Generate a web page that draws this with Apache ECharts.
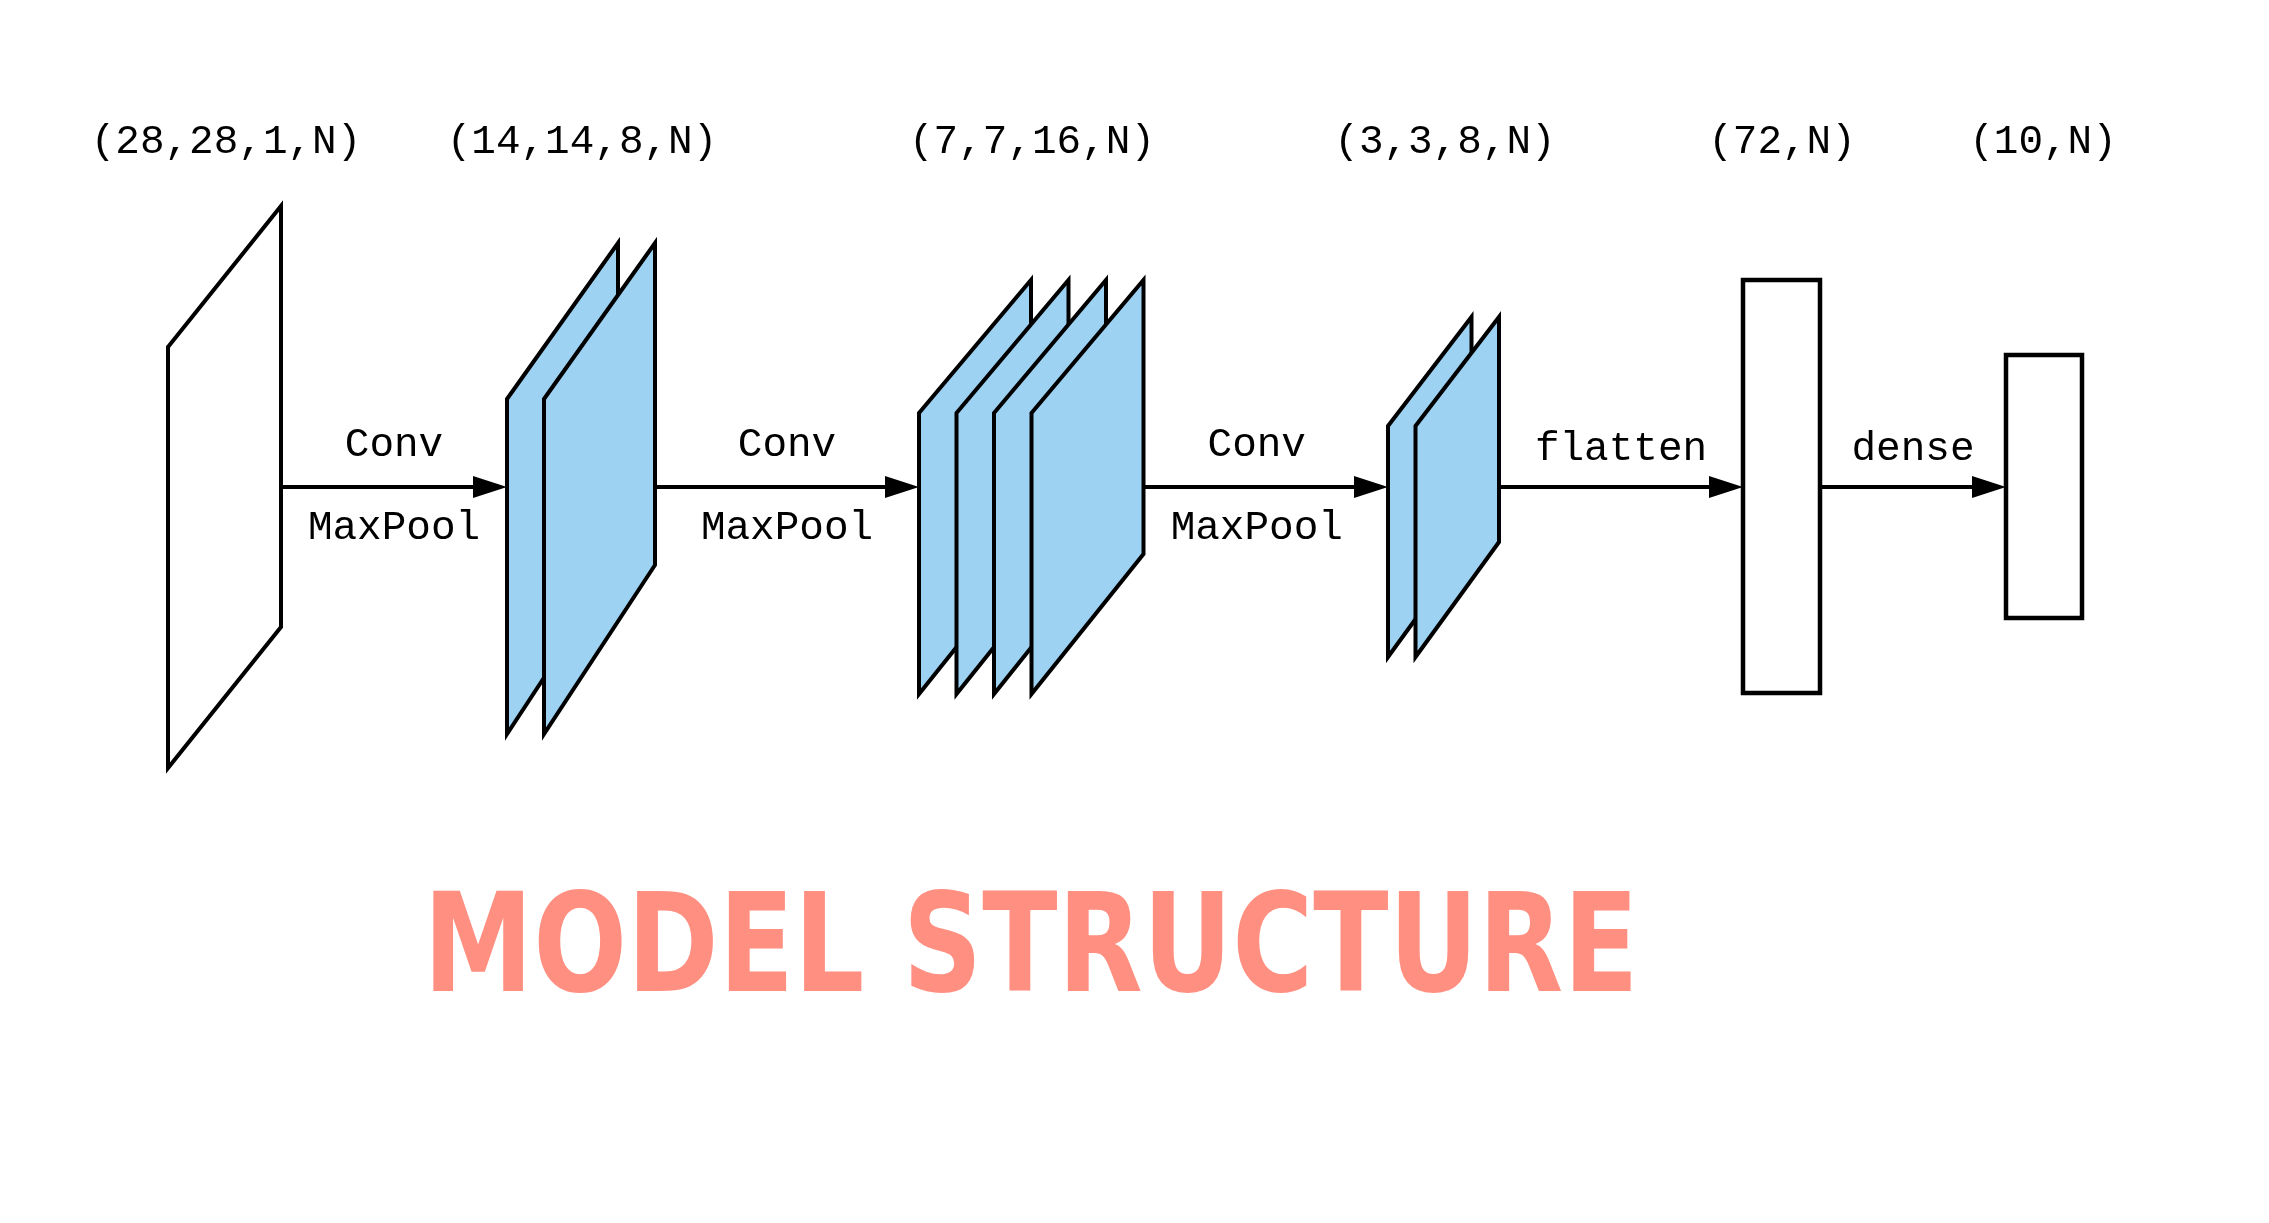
<!DOCTYPE html>
<html>
<head>
<meta charset="utf-8">
<script src="https://cdn.jsdelivr.net/npm/echarts@6/dist/echarts.min.js"></script>
<style>
  html, body { margin: 0; padding: 0; background: #fff; }
  #main { width: 2269px; height: 1223px; }
</style>
</head>
<body>
<div id="main"></div>
<script>
// 各层输出形状
const stageShapes = ['(28,28,1,N)', '(14,14,8,N)', '(7,7,16,N)', '(3,3,8,N)', '(72,N)', '(10,N)'];
// 每层画几张特征图
const stageMaps = [1, 2, 4, 2, 1, 1];
const stageKinds = ['plane', 'plane', 'plane', 'plane', 'vector', 'vector'];
// 层间操作
const opTop = ['Conv', 'Conv', 'Conv', 'flatten', 'dense'];
const opBottom = ['MaxPool', 'MaxPool', 'MaxPool', '', ''];
const titleText = 'MODEL STRUCTURE';

// 版面 (像素坐标, y 向下)
// plane: 左x, 宽, 左上y, 右上y, 右下y, 左下y, 相邻两张的间距
const planeLayout = [
    [168, 113, 347, 206, 627, 768, 0],
    [507, 111, 399, 243, 565, 734, 37],
    [919, 112, 413, 280, 554, 694, 37.5],
    [1388, 83.5, 426, 317, 542, 657, 27.5]
];
// vector: 左x, 宽, 上y, 下y
const vectorLayout = [
    [1743, 77, 280, 693],
    [2006, 76, 355, 618]
];
const shapeLabelX = [226, 582, 1032, 1445, 1782, 2043];
const shapeLabelY = 142;
const arrowY = 487;
const opLabelShift = [0, 0, -9, 0, 0];

const monoFont = '"Liberation Mono", "DejaVu Sans Mono", monospace';
const blue = '#9dd2f3';

function stageBounds(i) {
    if (stageKinds[i] === 'plane') {
        let p = planeLayout[i];
        return [p[0], p[0] + p[1] + p[6] * (stageMaps[i] - 1)];
    }
    let v = vectorLayout[i - planeLayout.length];
    return [v[0], v[0] + v[1]];
}

function renderStage(params, api) {
    let i = params.dataIndex;
    let children = [];
    if (stageKinds[i] === 'plane') {
        let p = planeLayout[i];
        for (let k = 0; k < stageMaps[i]; k++) {
            let off = p[6] * k;
            let pts = [
                [p[0] + off, p[2]],
                [p[0] + off + p[1], p[3]],
                [p[0] + off + p[1], p[4]],
                [p[0] + off, p[5]]
            ].map(d => api.coord(d));
            children.push({
                type: 'polygon',
                shape: { points: pts },
                style: { fill: i === 0 ? '#fff' : blue, stroke: '#000', lineWidth: 4, lineJoin: 'miter' }
            });
        }
    } else {
        let v = vectorLayout[i - planeLayout.length];
        let a = api.coord([v[0], v[2]]);
        let b = api.coord([v[0] + v[1], v[3]]);
        children.push({
            type: 'rect',
            shape: { x: a[0], y: a[1], width: b[0] - a[0], height: b[1] - a[1] },
            style: { fill: '#fff', stroke: '#000', lineWidth: 4.5 }
        });
    }
    let t = api.coord([shapeLabelX[i], shapeLabelY]);
    children.push({
        type: 'text',
        x: t[0], y: t[1],
        style: {
            text: stageShapes[i], fill: '#000', font: '41px ' + monoFont,
            align: 'center', verticalAlign: 'middle'
        }
    });
    return { type: 'group', children: children };
}

function renderArrow(params, api) {
    let i = params.dataIndex;
    let x1 = stageBounds(i)[1];
    let x2 = stageBounds(i + 1)[0];
    let head = 34, half = 11;
    let s = api.coord([x1, arrowY]);
    let e = api.coord([x2, arrowY]);
    let mid = (s[0] + e[0]) / 2 + opLabelShift[i];
    let children = [
        {
            type: 'line',
            shape: { x1: s[0], y1: s[1], x2: e[0] - head + 2, y2: e[1] },
            style: { stroke: '#000', lineWidth: 4 }
        },
        {
            type: 'polygon',
            shape: { points: [[e[0], e[1]], [e[0] - head, e[1] - half], [e[0] - head, e[1] + half]] },
            style: { fill: '#000' }
        },
        {
            type: 'text',
            x: mid, y: e[1] - (opBottom[i] ? 42 : 38),
            style: { text: opTop[i], fill: '#000', font: '41px ' + monoFont, align: 'center', verticalAlign: 'middle' }
        }
    ];
    if (opBottom[i]) {
        children.push({
            type: 'text',
            x: mid, y: e[1] + 41,
            style: { text: opBottom[i], fill: '#000', font: '41px ' + monoFont, align: 'center', verticalAlign: 'middle' }
        });
    }
    return { type: 'group', children: children };
}

let myChart = echarts.init(document.getElementById('main'));
let option = {
    backgroundColor: '#fff',
    animation: false,
    grid: { left: 0, right: 0, top: 0, bottom: 0 },
    xAxis: { type: 'value', min: 0, max: 2269, show: false },
    yAxis: { type: 'value', min: 0, max: 1223, inverse: true, show: false },
    graphic: [{
        type: 'text',
        x: 1031, y: 955,
        scaleX: 0.8,
        style: {
            text: titleText,
            fill: '#ff8f80',
            font: 'bold 138px "DejaVu Sans", sans-serif',
            align: 'center',
            verticalAlign: 'middle'
        }
    }],
    series: [
        {
            type: 'custom',
            name: 'arrows',
            clip: false,
            renderItem: renderArrow,
            data: opTop.map((d, i) => [i, arrowY])
        },
        {
            type: 'custom',
            name: 'stages',
            clip: false,
            renderItem: renderStage,
            data: stageShapes.map((d, i) => [i, arrowY])
        }
    ]
};
myChart.setOption(option);
</script>
</body>
</html>
